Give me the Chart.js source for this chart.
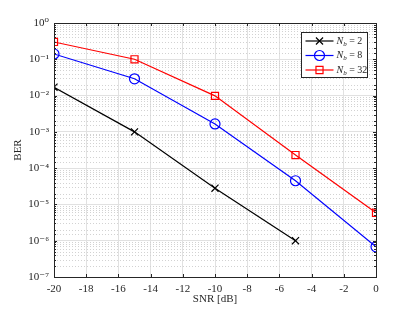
<!DOCTYPE html>
<html>
<head>
<meta charset="utf-8">
<script src="https://cdn.jsdelivr.net/npm/chart.js@4/dist/chart.umd.min.js"></script>
<style>
  html, body { margin: 0; padding: 0; background: #fff; }
  #wrap { width: 415px; height: 312px; position: relative; }
</style>
</head>
<body>
<div id="wrap"><canvas id="berChart"></canvas></div>
<script>
// BER vs SNR for different N_b

const snrValues = [-20, -15, -10, -5, 0];
const berNb2 = [0.017, 1.0e-3, 2.8e-5, 1.0e-6, null];
const berNb8 = [0.14, 0.029, 1.65e-3, 4.5e-5, 6.8e-7];
const berNb32 = [0.30, 0.10, 9.8e-3, 2.3e-4, 5.9e-6];
const seriesLabels = ['2', '8', '32'];
const supDigits = { '0': '⁰', '1': '¹', '2': '²', '3': '³', '4': '⁴', '5': '⁵', '6': '⁶', '7': '⁷', '-': '⁻' };

const axisColor = '#262626';
const serif = "'Liberation Serif', 'DejaVu Serif', serif";

function toPoints(ys) {
    return snrValues.map((x, i) => ({ x: x, y: ys[i] })).filter(p => p.y !== null);
}

function isDecade(v) {
    const e = Math.log10(v);
    return Math.abs(e - Math.round(e)) < 1e-9;
}

// Minor dotted grid, inward ticks, box and the legend (MATLAB look)
const matlabFrame = {
    id: 'matlabFrame',
    beforeDatasetsDraw(chart) {
        const { ctx, chartArea: a, scales } = chart;
        ctx.save();
        ctx.strokeStyle = '#d2d2d2';
        ctx.lineWidth = 1;
        ctx.setLineDash([1, 2]);
        scales.y.ticks.forEach(t => {
            if (isDecade(t.value)) return;
            const py = Math.round(scales.y.getPixelForValue(t.value)) + 0.5;
            ctx.beginPath();
            ctx.moveTo(a.left, py);
            ctx.lineTo(a.right, py);
            ctx.stroke();
        });
        ctx.restore();
    },
    afterDatasetsDraw(chart) {
        const { ctx, chartArea: a, scales } = chart;
        ctx.save();
        ctx.strokeStyle = axisColor;
        ctx.lineWidth = 1;
        // box
        ctx.strokeRect(Math.round(a.left) + 0.5, Math.round(a.top) + 0.5,
            Math.round(a.right - a.left), Math.round(a.bottom - a.top));
        // x ticks (inward, top and bottom)
        ctx.beginPath();
        scales.x.ticks.forEach(t => {
            const px = Math.round(scales.x.getPixelForValue(t.value)) + 0.5;
            ctx.moveTo(px, a.bottom); ctx.lineTo(px, a.bottom - 3);
            ctx.moveTo(px, a.top); ctx.lineTo(px, a.top + 3);
        });
        // y ticks (inward, left and right)
        scales.y.ticks.forEach(t => {
            const len = isDecade(t.value) ? 3 : 2;
            const py = Math.round(scales.y.getPixelForValue(t.value)) + 0.5;
            ctx.moveTo(a.left, py); ctx.lineTo(a.left + len, py);
            ctx.moveTo(a.right, py); ctx.lineTo(a.right - len, py);
        });
        ctx.stroke();

        // legend
        const w = 66, h = 45;
        const lx = Math.round(a.right - 9 - w) + 0.5;
        const ly = Math.round(a.top + 9) + 0.5;
        ctx.fillStyle = '#fff';
        ctx.fillRect(lx, ly, w, h);
        ctx.strokeStyle = axisColor;
        ctx.strokeRect(lx, ly, w, h);
        chart.data.datasets.forEach((ds, i) => {
            const cy = ly + 8.5 + i * 14.5;
            const x0 = lx + 4, x1 = lx + 32, cx = (x0 + x1) / 2;
            ctx.strokeStyle = ds.borderColor;
            ctx.lineWidth = 1.2;
            ctx.beginPath();
            ctx.moveTo(x0, cy); ctx.lineTo(x1, cy);
            ctx.stroke();
            ctx.fillStyle = 'rgba(0,0,0,0)';
            Chart.helpers.drawPoint(ctx, {
                pointStyle: ds.pointStyle, radius: ds.pointRadius, rotation: 0, borderWidth: 1.2
            }, cx, cy);
            // text: N_b = value
            ctx.fillStyle = axisColor;
            ctx.textBaseline = 'middle';
            ctx.font = 'italic 10px ' + serif;
            let tx = x1 + 3;
            ctx.fillText('N', tx, cy);
            tx += ctx.measureText('N').width;
            ctx.font = 'italic 7px ' + serif;
            ctx.fillText('b', tx, cy + 3);
            tx += ctx.measureText('b').width;
            ctx.font = '10px ' + serif;
            ctx.fillText(' = ' + seriesLabels[i], tx, cy);
        });
        ctx.restore();
    }
};

new Chart(document.getElementById('berChart'), {
    type: 'line',
    data: {
        datasets: [
            {
                label: 'Nb = 2',
                data: toPoints(berNb2),
                borderColor: '#000000',
                backgroundColor: '#000000',
                pointStyle: 'crossRot',
                pointRadius: 5,
                pointBorderWidth: 1.2
            },
            {
                label: 'Nb = 8',
                data: toPoints(berNb8),
                borderColor: '#0000ff',
                backgroundColor: 'transparent',
                pointStyle: 'circle',
                pointRadius: 5,
                pointBorderWidth: 1.2
            },
            {
                label: 'Nb = 32',
                data: toPoints(berNb32),
                borderColor: '#ff0000',
                backgroundColor: 'transparent',
                pointStyle: 'rect',
                pointRadius: 5,
                pointBorderWidth: 1.2
            }
        ]
    },
    options: {
        responsive: true,
        maintainAspectRatio: false,
        animation: false,
        elements: {
            line: { borderWidth: 1.2, tension: 0, fill: false },
            point: { backgroundColor: 'transparent' }
        },
        layout: { padding: { left: 0, top: 23, right: 39, bottom: 0 } },
        plugins: {
            legend: { display: false },
            tooltip: { enabled: false }
        },
        scales: {
            x: {
                type: 'linear',
                min: -20,
                max: 0,
                afterFit: s => { s.height = 35; },
                ticks: {
                    stepSize: 2,
                    color: axisColor,
                    padding: 6,
                    maxRotation: 0,
                    font: { family: serif, size: 11 }
                },
                grid: { color: '#e1e1e1', drawTicks: false },
                border: { display: false },
                title: {
                    display: true,
                    text: 'SNR [dB]',
                    color: axisColor,
                    padding: { top: 0, bottom: 6 },
                    font: { family: serif, size: 11 }
                }
            },
            y: {
                type: 'logarithmic',
                min: 1e-7,
                max: 1,
                afterFit: s => { s.width = 54; },
                ticks: {
                    color: axisColor,
                    padding: 5,
                    autoSkip: false,
                    font: { family: serif, size: 11 },
                    callback: function (value) {
                        if (!isDecade(value)) return '';
                        const e = String(Math.round(Math.log10(value)));
                        return '10' + e.split('').map(c => supDigits[c]).join('');
                    }
                },
                grid: {
                    drawTicks: false,
                    color: ctx => (ctx.tick && isDecade(ctx.tick.value)) ? '#e1e1e1' : 'transparent'
                },
                border: { display: false },
                title: {
                    display: true,
                    text: 'BER',
                    color: axisColor,
                    padding: { top: 12, bottom: 0 },
                    font: { family: serif, size: 11 }
                }
            }
        }
    },
    plugins: [matlabFrame]
});
</script>
</body>
</html>
